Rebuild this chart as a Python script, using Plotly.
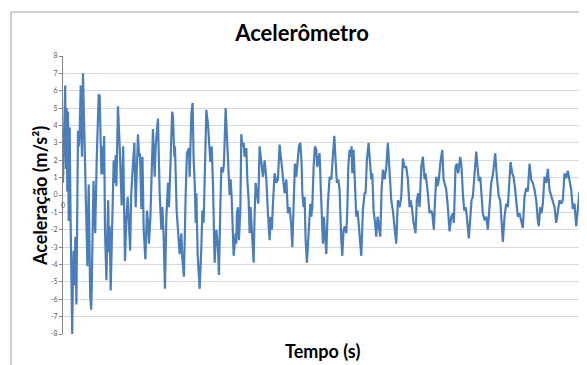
import plotly.graph_objects as go

# Tempo (unidades arbitrárias, eixo sem rótulos) e aceleração (m/s²)
tempo = [
    63.3, 64.5, 65.5, 66.3, 67.0, 67.6, 68.3, 69.0, 70.0, 70.8,
    71.5, 72.5, 73.3, 74.0, 74.5, 75.0, 75.7, 76.7, 78.3, 79.3,
    80.0, 81.0, 82.3, 83.3, 84.5, 85.5, 86.3, 87.7, 89.0, 90.5,
    91.5, 92.0, 93.8, 95.5, 97.0, 99.0, 100.0, 101.7, 102.7, 103.3,
    104.5, 105.3, 106.7, 107.5, 108.5, 109.3, 110.0, 111.0, 112.7, 114.0,
    115.0, 116.0, 116.7, 118.3, 120.0, 120.7, 122.0, 123.5, 124.3, 125.3,
    126.7, 128.0, 130.5, 131.5, 133.0, 134.7, 136.0, 138.3, 139.5, 140.3,
    141.7, 142.8, 144.0, 145.7, 147.3, 148.3, 149.3, 150.7, 153.3, 155.0,
    156.0, 158.3, 160.0, 161.7, 162.7, 164.0, 165.3, 166.7, 168.3, 169.3,
    170.7, 172.5, 173.3, 174.7, 175.3, 177.0, 180.0, 181.7, 182.7, 184.3,
    186.0, 187.3, 189.3, 190.0, 191.7, 193.0, 194.0, 195.3, 196.0, 196.7,
    198.0, 200.0, 201.7, 202.7, 204.0, 205.3, 206.7, 208.3, 209.3, 210.7,
    212.0, 213.3, 215.0, 216.7, 218.3, 219.3, 220.7, 221.7, 223.3, 224.3,
    226.0, 227.3, 228.7, 230.0, 231.0, 232.0, 234.0, 236.0, 236.7, 237.3,
    238.3, 239.3, 240.7, 241.7, 242.7, 244.0, 245.0, 246.7, 247.7, 249.0,
    250.0, 251.0, 252.0, 254.0, 255.0, 256.0, 257.3, 258.7, 260.0, 261.7,
    263.3, 265.0, 266.7, 268.3, 270.0, 271.0, 272.3, 273.3, 275.0, 276.7,
    278.3, 280.0, 281.7, 283.3, 285.0, 286.7, 288.3, 290.0, 291.7, 292.7,
    294.0, 295.3, 296.7, 298.0, 299.3, 300.7, 302.0, 302.7, 304.0, 305.0,
    306.0, 307.3, 309.3, 310.7, 311.7, 312.7, 314.0, 315.3, 316.7, 317.7,
    318.7, 320.0, 321.0, 322.3, 323.3, 324.3, 325.3, 326.7, 328.3, 330.0,
    331.7, 333.3, 334.7, 336.0, 337.3, 338.7, 340.0, 341.7, 342.7, 344.0,
    345.3, 346.7, 347.7, 348.7, 350.0, 351.0, 352.0, 352.7, 354.0, 355.3,
    356.7, 358.0, 359.3, 360.7, 361.7, 363.3, 365.0, 366.0, 367.3, 369.0,
    370.7, 371.7, 372.7, 374.0, 375.3, 376.7, 378.0, 379.3, 380.7, 382.0,
    383.3, 385.0, 386.7, 388.3, 390.0, 391.7, 393.3, 395.0, 396.7, 398.3,
    400.0, 401.7, 403.3, 405.0, 406.7, 408.3, 410.0, 411.0, 412.3, 414.0,
    416.0, 417.3, 418.7, 420.0, 421.7, 423.3, 425.0, 426.0, 427.3, 428.3,
    430.0, 431.7, 432.7, 434.3, 435.3, 436.7, 438.0, 439.3, 440.7, 442.7,
    444.0, 445.3, 446.7, 448.3, 450.0, 451.7, 453.3, 454.3, 456.0, 457.3,
    458.7, 460.7, 462.0, 463.3, 464.7, 466.0, 467.3, 469.3, 470.7, 472.0,
    473.3, 475.0, 476.7, 478.0, 479.3, 480.7, 482.0, 483.3, 485.0, 486.7,
    488.3, 490.0, 491.7, 493.3, 495.7, 497.3, 499.3, 500.7, 502.0, 503.3,
    505.0, 506.7, 508.3, 509.3, 511.0, 512.7, 514.0, 515.3, 516.7, 518.3,
    520.0, 521.7, 523.3, 525.0, 526.7, 528.3, 530.0, 531.7, 533.3, 535.0,
    536.7, 538.3, 539.3, 540.7, 542.0, 543.3, 545.0, 546.7, 548.3, 550.0,
    551.7, 553.3, 555.0, 556.7, 558.3, 560.0, 561.7, 563.3, 565.0, 566.7,
    568.3, 570.0, 571.7, 573.3, 575.0, 576.7, 578.3, 580.0,
]

aceleracao = [
    0.7, 3.0, 6.3, 1.5, 5.0, 0.2, 4.8, -1.5, 3.9, -1.0,
    -3.7, -8.0, -4.5, -3.2, -5.2, -3.7, -2.4, -6.3, 3.7, 2.8,
    3.7, 6.3, 2.2, 7.0, 3.5, 0.7, -0.5, -4.1, 0.6, -5.8,
    -6.6, -5.4, 0.8, -2.2, 2.0, 5.8, 5.7, 1.2, 2.8, 1.2,
    3.4, -2.0, -4.9, -3.0, -0.3, -3.3, -1.8, -5.5, 0.1, 2.0,
    0.7, 2.3, 0.5, 5.1, 2.8, 1.2, -0.6, 2.8, -1.2, -3.8,
    -1.4, -0.1, -3.2, 0.0, 1.5, 3.0, -0.7, 3.5, 2.2, 2.4,
    -0.8, 2.2, -2.0, -3.7, -0.9, -1.5, -2.8, -1.3, 3.8, 1.05,
    2.8, 4.4, 0.1, -2.0, -0.7, -2.4, -5.4, -1.3, 0.7, -0.7,
    1.6, 4.8, 4.5, 2.2, 2.8, -0.9, -3.4, -2.2, -3.7, -4.7,
    0.0, 2.4, 2.7, 1.05, 4.7, 5.3, 2.0, 0.3, -1.6, 0.1,
    -3.4, -5.4, -3.0, -0.9, -1.6, 0.9, 4.9, 4.1, 2.8, 1.9,
    2.8, 0.7, -3.9, -2.0, -3.0, -4.6, -0.7, 1.6, 1.3, 1.8,
    5.0, 3.5, 1.05, 0.0, 0.9, -0.1, -3.5, -2.2, -2.8, -1.05,
    -0.7, -2.6, -0.9, 3.5, 2.8, 3.0, 2.2, 2.7, 0.9, -0.3,
    -2.2, -0.7, -1.8, -3.9, -1.05, 0.7, 0.1, -0.5, 2.8, 2.0,
    1.05, 2.0, 0.9, -1.05, -2.6, -1.25, -2.0, -0.5, 1.25, 0.7,
    0.9, 2.9, 2.0, 1.25, 0.1, 0.9, -1.05, -0.7, -1.8, -3.0,
    -0.9, 1.8, 1.05, 2.2, 2.8, 3.0, 1.8, 0.1, -0.7, -0.1,
    -2.6, -3.9, -1.4, -0.5, -1.25, -0.7, 1.6, 2.8, 2.6, 1.6,
    2.0, 2.4, 0.7, -2.0, -2.8, -1.25, -2.2, -3.4, -0.5, 1.05,
    0.9, 2.6, 3.4, 2.0, 0.7, 0.9, 0.3, -2.6, -3.5, -2.0,
    -1.8, -2.2, -0.9, 1.6, 2.6, 2.2, 2.8, 1.25, 2.6, 0.7,
    -1.25, -0.9, -2.0, -2.6, -3.5, -0.9, 0.1, 0.1, 2.0, 3.0,
    1.6, 0.9, 1.25, -0.9, -1.5, -2.4, -1.25, -1.8, -2.4, 0.3,
    1.45, 0.9, 1.6, 3.0, 1.05, -0.3, -0.9, -1.8, -2.8, -0.3,
    -0.7, -0.1, 2.1, 1.6, 1.6, 0.9, -0.7, -0.3, -0.7, -1.6,
    -2.2, -0.3, 0.1, -0.7, 1.6, 2.2, 0.9, 1.25, 0.7, 0.1,
    -1.05, -0.9, -1.05, -2.0, -0.5, 1.05, 0.5, 0.9, 1.8, 2.6,
    0.9, 0.5, 0.3, -0.7, -2.1, -1.25, -1.05, -1.6, 1.6, 1.8,
    1.25, 2.2, 1.6, 0.1, -0.9, -0.7, -1.25, -2.5, -1.6, -0.3,
    -0.1, 1.25, 2.5, 1.6, 0.8, 1.05, -0.3, -1.05, -1.45, -1.25,
    -2.0, -0.5, 0.7, 1.15, 2.4, 1.05, -0.1, -0.3, -1.45, -2.7,
    -1.25, -0.5, -0.7, 0.5, 1.9, 1.25, 1.05, 0.5, -0.5, -1.25,
    -1.05, -1.45, -1.9, -0.1, 0.4, 0.2, 1.8, 0.9, 0.7, 0.3,
    -0.3, -1.45, -1.8, -0.7, -1.05, -0.5, 1.05, 0.7, 1.5, 0.3,
    -0.1, -0.3, -0.7, -1.6, -0.9, -0.3, -0.5, -0.3, 1.25, 0.95,
    1.4, 0.7, 0.3, -0.8, -0.5, -1.8, -0.7, 0.2,
]

y_ticks = [-8, -7, -6, -5, -4, -3, -2, -1, 0, 1, 2, 3, 4, 5, 6, 7, 8]

FONT = "Lato"
OFF = 8  # default page body margin in the written HTML
W, H = 587 - OFF, 365 - OFF
PX0, PX1 = 63, 581   # plot area left/right in page pixels
PY0, PY1 = 56, 334   # plot area top/bottom in page pixels
L, R = PX0 - OFF, (OFF + W) - PX1
T, B = PY0 - OFF, (OFF + H) - PY1
pw = PX1 - PX0
ph = PY1 - PY0


def paper_x(px):
    return (px - PX0) / pw


def paper_y(py):
    return (PY1 - py) / ph


fig = go.Figure()
fig.add_trace(go.Scatter(
    x=tempo, y=aceleracao, mode="lines",
    line=dict(color="#4a7ebb", width=2.2),
    hoverinfo="skip", showlegend=False,
))

fig.update_layout(
    width=W, height=H,
    margin=dict(l=L, r=R, t=T, b=B),
    paper_bgcolor="white", plot_bgcolor="white",
    font=dict(family=FONT, color="#595959"),
    title=dict(
        text="<b>Acelerômetro</b>",
        font=dict(family=FONT, size=22, color="#000000"),
        x=paper_x(302), xref="paper", xanchor="center",
        y=1 - (33 - OFF) / H, yref="container", yanchor="middle",
    ),
    xaxis=dict(
        range=[63.3, 581.5], showgrid=False, zeroline=False,
        showticklabels=False, showline=False, ticks="",
    ),
    yaxis=dict(
        range=[-8, 8], tickvals=y_ticks, ticktext=[str(v) for v in y_ticks],
        showgrid=True, gridcolor="#d9d9d9", gridwidth=1,
        zeroline=False, showline=True, linecolor="#868686", linewidth=1,
        ticks="outside", ticklen=3, tickcolor="#868686",
        tickfont=dict(family=FONT, size=7, color="#595959"),
    ),
    shapes=[dict(
        type="rect", xref="paper", yref="paper",
        x0=paper_x(11), x1=paper_x(640),
        y0=paper_y(420), y1=paper_y(12),
        line=dict(color="#a0a0a0", width=1), fillcolor="rgba(0,0,0,0)",
        layer="below",
    )],
    annotations=[
        dict(text="<b>Aceleração (m/s²)</b>", textangle=-90,
             xref="paper", yref="paper", x=paper_x(40), y=paper_y(196),
             xanchor="center", yanchor="middle", showarrow=False,
             font=dict(family=FONT, size=18, color="#000000")),
        dict(text="<b>Tempo (s)</b>",
             xref="paper", yref="paper", x=paper_x(322), y=paper_y(351),
             xanchor="center", yanchor="middle", showarrow=False,
             font=dict(family=FONT, size=18, color="#000000")),
        dict(text="0", xref="x", yref="y", x=63.3, y=0, yshift=-10,
             xanchor="center", yanchor="middle", showarrow=False,
             font=dict(family=FONT, size=7, color="#595959")),
    ],
)

fig.write_html("out.html")
